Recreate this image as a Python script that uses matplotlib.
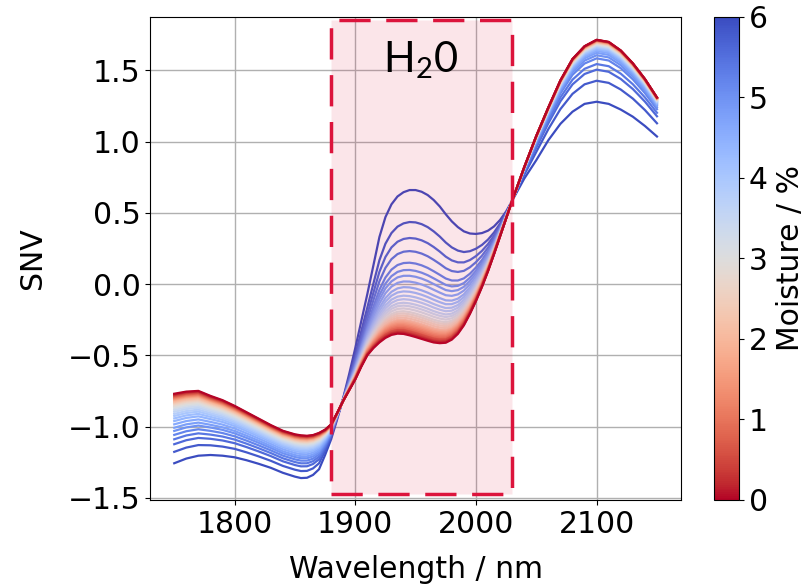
import numpy as np
import matplotlib
matplotlib.use("Agg")
from matplotlib import pyplot as plt
from matplotlib.patches import Rectangle
from matplotlib.colors import Normalize
from matplotlib.cm import ScalarMappable

plt.rcParams['font.family'] = ['DejaVu Sans']
plt.rcParams['mathtext.fontset'] = 'custom'
plt.rcParams['mathtext.rm'] = 'Lato'

# wavelength grid (nm), finer across the water band
wavelengths = ([1750, 1760, 1770, 1780, 1790, 1800, 1810, 1820, 1830, 1840]
               + list(range(1850, 2031, 5))
               + [2040, 2050, 2060, 2070, 2080, 2090, 2100, 2110, 2120, 2130, 2140, 2150])

# SNV spectrum of the dry sample (0 % moisture)
snv_dry = [-0.77, -0.755, -0.75, -0.785, -0.815, -0.855, -0.90, -0.945, -0.99, -1.03,
           -1.055, -1.062, -1.065, -1.06, -1.045, -1.022, -0.985, -0.905, -0.82, -0.745,
           -0.67, -0.58, -0.50, -0.45, -0.41, -0.378, -0.357, -0.348, -0.35, -0.36,
           -0.372, -0.385, -0.398, -0.41, -0.415, -0.412, -0.39, -0.35, -0.29, -0.21,
           -0.12, -0.02, 0.09, 0.21, 0.335, 0.46, 0.585,
           0.82, 1.04, 1.24, 1.43, 1.58, 1.67, 1.715, 1.70, 1.64, 1.55, 1.44, 1.31]

# SNV spectrum of the wettest sample (6 % moisture)
snv_wet = [-1.258, -1.225, -1.205, -1.20, -1.205, -1.216, -1.237, -1.262, -1.29, -1.325,
           -1.352, -1.362, -1.36, -1.34, -1.30, -1.20, -1.09, -0.95, -0.80, -0.63,
           -0.45, -0.26, -0.07, 0.13, 0.33, 0.47, 0.56, 0.615, 0.645, 0.66,
           0.66, 0.648, 0.625, 0.59, 0.545, 0.49, 0.44, 0.40, 0.37, 0.355,
           0.352, 0.358, 0.375, 0.405, 0.45, 0.51, 0.585,
           0.74, 0.87, 1.01, 1.125, 1.21, 1.265, 1.28, 1.265, 1.225, 1.175, 1.11, 1.036]

# moisture of each measured spectrum (%), wettest first
moisture = [6.0, 5.8, 5.6, 5.4, 5.2, 5.0, 4.8, 4.6, 4.4, 4.2, 4.0,
            3.8, 3.6, 3.4, 3.2, 3.0, 2.8, 2.6, 2.4, 2.2, 2.0,
            1.8, 1.6, 1.4, 1.2, 1.0, 0.8, 0.6, 0.4, 0.2, 0.0]

# where each spectrum sits between dry (0) and wet (1), read in three regions
frac_short = [1.00, 0.836, 0.726, 0.655, 0.592, 0.535, 0.489, 0.44, 0.393, 0.355, 0.32,
              0.29, 0.26, 0.235, 0.21, 0.19, 0.17, 0.15, 0.135, 0.12, 0.105,
              0.09, 0.08, 0.07, 0.06, 0.05, 0.04, 0.03, 0.02, 0.01, 0.0]
frac_band = [1.00, 0.78, 0.67, 0.58, 0.50, 0.45, 0.41, 0.37, 0.33, 0.30, 0.27,
             0.245, 0.22, 0.20, 0.18, 0.16, 0.145, 0.13, 0.115, 0.10, 0.09,
             0.08, 0.07, 0.06, 0.05, 0.04, 0.03, 0.025, 0.015, 0.008, 0.0]
frac_long = [1.00, 0.661, 0.482, 0.392, 0.30, 0.25, 0.21, 0.18, 0.155, 0.135, 0.12,
             0.105, 0.095, 0.085, 0.075, 0.066, 0.058, 0.05, 0.044, 0.038, 0.032,
             0.027, 0.022, 0.018, 0.014, 0.011, 0.008, 0.006, 0.004, 0.002, 0.0]

fig = plt.figure(figsize=(8.07, 5.86), dpi=100)
ax = fig.add_axes([0.186, 0.147, 0.658, 0.824])
cax = fig.add_axes([0.885, 0.147, 0.031, 0.824])

cmap = plt.cm.coolwarm_r
norm = Normalize(vmin=0, vmax=6)

wl = np.array(wavelengths)
dry = np.array(snv_dry)
wet = np.array(snv_wet)
for m, fs, fb, fl in zip(moisture, frac_short, frac_band, frac_long):
    f = np.where(wl <= 1880, fs, np.where(wl < 2030, fb, fl))
    ax.plot(wl, dry + f * (wet - dry), color=cmap(norm(m)), lw=1.6)

rect = Rectangle((1880, -1.475), 150, 3.33, facecolor=(0.86, 0.08, 0.24, 0.11),
                 edgecolor='crimson', lw=2.5, linestyle=(0, (9, 4.5)), zorder=3)
ax.add_patch(rect)
ax.text(1954, 1.57, r'H$_\mathregular{2}$0', family='Lato', fontsize=30,
        ha='center', va='center', zorder=4)

ax.set_xlim(1730, 2170)
ax.set_ylim(-1.515, 1.875)
ax.set_xticks([1800, 1900, 2000, 2100])
ax.set_yticks([-1.5, -1.0, -0.5, 0.0, 0.5, 1.0, 1.5])
ax.grid(True, color='#b0b0b0', lw=1)
ax.set_axisbelow(True)
ax.tick_params(labelsize=21.5)
ax.set_xlabel('Wavelength / nm', fontsize=21.5, labelpad=12)
ax.set_ylabel('SNV', fontsize=21.5, labelpad=15)

sm = ScalarMappable(norm=norm, cmap=cmap)
cb = fig.colorbar(sm, cax=cax)
cb.set_ticks([0, 1, 2, 3, 4, 5, 6])
cb.ax.tick_params(labelsize=21.5)
cb.set_label('Moisture / %', fontsize=21.5, labelpad=6)

plt.savefig('out.png', dpi=100)
